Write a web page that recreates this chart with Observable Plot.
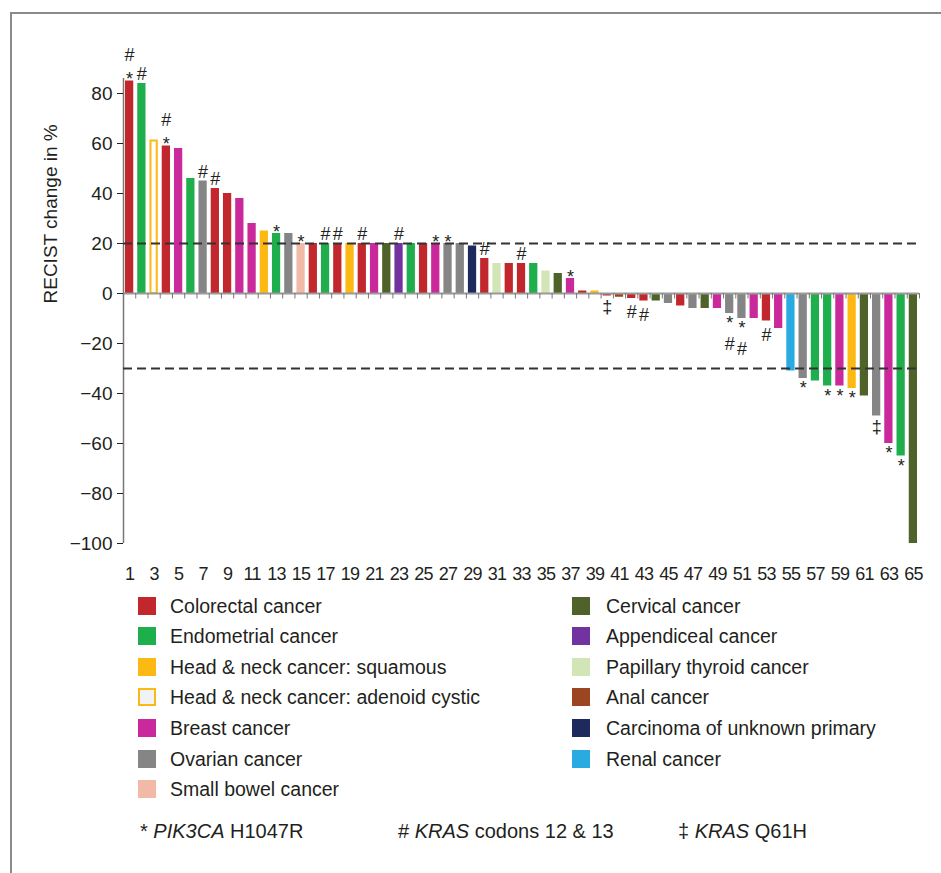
<!DOCTYPE html>
<html><head><meta charset="utf-8">
<script src="https://cdn.jsdelivr.net/npm/d3@7"></script>
<script src="https://cdn.jsdelivr.net/npm/@observablehq/plot@0.6"></script>
<style>
html,body{margin:0;padding:0;background:#fff;overflow:hidden}
#wrap{position:relative;width:941px;height:873px;overflow:hidden;font-family:"Liberation Sans",Arial,Helvetica,sans-serif;color:#231f20}
#frame{position:absolute;left:10px;top:12px;width:1000px;height:1000px;border-left:2.5px solid #8a8a8a;border-top:2.5px solid #8a8a8a}
#chart{position:absolute;left:0;top:0}
#legend{position:absolute;left:0;top:590px;width:941px;height:283px}
.sw{position:absolute;width:18px;height:18px;box-sizing:border-box}
.lt{position:absolute;font-size:19.5px;line-height:20px;white-space:nowrap}
.ft{position:absolute;font-size:20px;line-height:20px;white-space:nowrap}
</style></head><body>
<div id="wrap"><div id="frame"></div><div id="chart"></div><div id="legend"></div></div>
<script>
// ---- data ----
const categoryNames = [
  "Colorectal cancer", "Endometrial cancer", "Head & neck cancer: squamous",
  "Head & neck cancer: adenoid cystic", "Breast cancer", "Ovarian cancer",
  "Small bowel cancer", "Cervical cancer", "Appendiceal cancer",
  "Papillary thyroid cancer", "Anal cancer", "Carcinoma of unknown primary", "Renal cancer"
];
const categoryColors = [
  "#c1272d", "#1fae4c", "#fdb913", "#f1f2f6", "#c9299a", "#858585",
  "#f2b9a6", "#4e6229", "#7232a0", "#d2e5b5", "#9c4521", "#1e295c", "#29abe2"
];
const patientIds = d3.range(1, 66);
const recistChange = [
  85, 84, 61, 59, 58, 46, 45, 42, 40, 38,
  28, 25, 24, 24, 20, 20, 20, 20, 20, 20,
  20, 20, 20, 20, 20, 20, 20, 20, 19, 14,
  12, 12, 12, 12, 9, 8, 6, 1, 1, -1,
  -1.5, -2, -3, -3, -4, -5, -6, -6, -6, -8,
  -10, -10, -11, -14, -31, -34, -35, -37, -37, -38,
  -41, -49, -60, -65, -100
];
// category index (into categoryNames) for each patient
const patientCategory = [
  0, 1, 3, 0, 4, 1, 5, 0, 0, 4,
  4, 2, 1, 5, 6, 0, 1, 0, 2, 0,
  4, 7, 8, 1, 0, 4, 5, 5, 11, 0,
  9, 0, 0, 1, 9, 7, 4, 0, 2, 0,
  10, 0, 0, 7, 5, 0, 5, 7, 4, 5,
  5, 4, 0, 4, 12, 5, 1, 1, 4, 2,
  7, 5, 4, 1, 7
];
const pik3caH1047R = [1, 4, 13, 15, 26, 27, 37, 50, 51, 56, 58, 59, 60, 63, 64];
const krasCodons1213 = [1, 2, 4, 7, 8, 17, 18, 20, 23, 30, 33, 42, 43, 50, 51, 53];
const krasQ61H = [40, 62];
const yTicks = [-100, -80, -60, -40, -20, 0, 20, 40, 60, 80];
const xTicks = [1,3,5,7,9,11,13,15,17,19,21,23,25,27,29,31,33,35,37,39,41,43,45,47,49,51,53,55,57,59,61,63,65];
const thresholds = [20, -30];
const footSymbols = ["*", "#", "\u2021"];
const footGenes = ["PIK3CA", "KRAS", "KRAS"];
const footVariants = ["H1047R", "codons 12 & 13", "Q61H"];

// ---- tables ----
const bars = patientIds.map((id, i) => ({id, value: recistChange[i], cat: categoryNames[patientCategory[i]]}));
const markers = [];
bars.forEach(b => {
  const syms = [];
  if (pik3caH1047R.includes(b.id)) syms.push("*");
  if (krasCodons1213.includes(b.id)) syms.push("#");
  if (krasQ61H.includes(b.id)) syms.push("\u2021");
  syms.forEach((s, level) => markers.push({id: b.id, value: b.value, sym: s, level, pos: b.value >= 0}));
});
const boundaries = [0, ...patientIds].map(i => i + 0.5);

const FONT = '"Liberation Sans", Arial, Helvetica, sans-serif';
function markerText(filter, dy) {
  return Plot.text(markers, {filter, x: "id", y: "value", text: "sym", dy, fontSize: 18, fill: "#231f20"});
}

const chart = Plot.plot({
  width: 941, height: 590,
  marginLeft: 123, marginRight: 22, marginTop: 43, marginBottom: 47,
  style: {fontFamily: FONT, fontSize: "19px", color: "#231f20", background: "transparent", overflow: "visible"},
  x: {type: "linear", domain: [0.5, 65.5]},
  y: {domain: [-100, 100]},
  color: {domain: categoryNames, range: categoryColors},
  marks: [
    Plot.rectY(bars, {x1: d => d.id - 0.5, x2: d => d.id + 0.5, y1: 0, y2: "value", fill: "cat", insetLeft: 2, insetRight: 2}),
    Plot.rectY(bars, {filter: d => d.cat === "Head & neck cancer: adenoid cystic", x1: d => d.id - 0.5, x2: d => d.id + 0.5, y1: 0, y2: "value", fill: "white", stroke: "#fdb913", strokeWidth: 2, insetLeft: 3, insetRight: 3}),
    Plot.ruleY([0], {x1: 0.5, x2: 65.5, stroke: "#9a9a9a", strokeWidth: 2}),
    Plot.ruleX(boundaries, {x: d => d, y1: 0, y2: -2.2, stroke: "#777", strokeWidth: 1}),
    Plot.ruleX([0.5], {y1: -100, y2: 86, stroke: "#777", strokeWidth: 1.5}),
    Plot.ruleY(thresholds, {x1: 0.5, x2: 65.5, stroke: "#333", strokeWidth: 2, strokeDasharray: "9,5"}),
    Plot.axisY({ticks: yTicks, tickSize: 6, tickPadding: 5, label: null, fontSize: 19}),
    Plot.axisX({ticks: xTicks, tickSize: 0, tickPadding: 24, label: null, fontSize: 18, tickFormat: d => String(d)}),
    Plot.text(["RECIST change in %"], {frameAnchor: "left", dx: -73, dy: 10, rotate: -90, fontSize: 19, fill: "#231f20"}),
    markerText(d => d.pos && d.level === 0 && d.sym === "*", -1.5),
    markerText(d => d.pos && d.level === 0 && d.sym === "#", -9),
    markerText(d => d.pos && d.level === 1, -26),
    markerText(d => !d.pos && d.level === 0 && d.sym === "*", 10),
    markerText(d => !d.pos && d.level === 0 && d.sym === "#", 14),
    markerText(d => !d.pos && d.level === 1, 31),
    markerText(d => !d.pos && d.sym === "\u2021", 11)
  ]
});
document.getElementById("chart").appendChild(chart);
chart.querySelectorAll('[aria-label="x-axis tick label"] text').forEach(t => t.setAttribute("letter-spacing", "-0.8"));

// ---- legend ----
const legend = document.getElementById("legend");
categoryNames.forEach((name, i) => {
  const left = i < 7;
  const row = left ? i : i - 7;
  const sx = left ? 138 : 572, tx = left ? 170 : 606;
  const cy = 15.5 + 30.6 * row;
  const sw = document.createElement("div");
  sw.className = "sw";
  sw.style.left = sx + "px"; sw.style.top = (cy - 9) + "px";
  sw.style.background = categoryColors[i];
  if (name === "Head & neck cancer: adenoid cystic") sw.style.border = "2px solid #fdb913";
  legend.appendChild(sw);
  const tx_ = document.createElement("div");
  tx_.className = "lt";
  tx_.style.left = tx + "px"; tx_.style.top = (cy - 10) + "px";
  tx_.textContent = name;
  legend.appendChild(tx_);
});
const footX = [140, 398, 678];
footSymbols.forEach((s, i) => {
  const f = document.createElement("div");
  f.className = "ft";
  f.style.left = footX[i] + "px"; f.style.top = "231px";
  f.innerHTML = s + " <i>" + footGenes[i] + "</i> " + footVariants[i];
  legend.appendChild(f);
});
</script></body></html>
